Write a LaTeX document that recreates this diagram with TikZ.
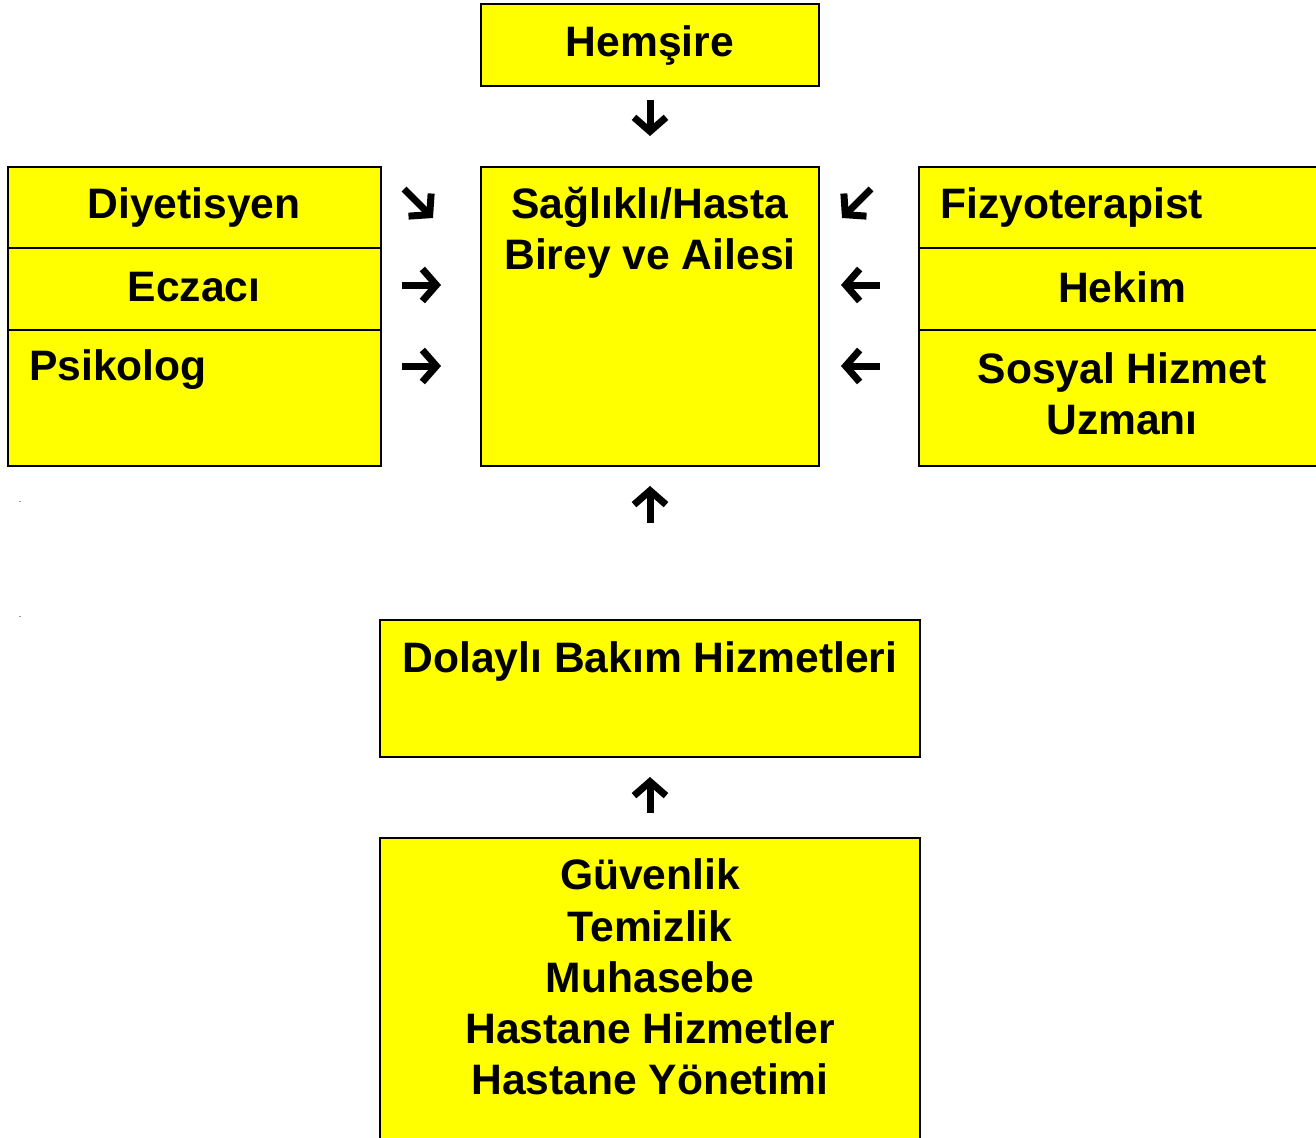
\documentclass[tikz,border=0pt]{standalone}
\usepackage{fontspec}
\setmainfont{Liberation Sans}
\usetikzlibrary{arrows.meta}
\definecolor{boxyellow}{RGB}{255,255,0}
\begin{document}
\begin{tikzpicture}[x=1pt,y=-1pt,
  boxstyle/.style={draw=black,line width=2.2pt,fill=boxyellow},
  lbl/.style={font=\fontsize{42.6}{51.2}\selectfont\bfseries,inner sep=0pt,align=center},
  glypharrow/.style={line width=7pt,-{Straight Barb[length=14pt,width=32pt,line width=7pt]}}]
\useasboundingbox (0,0) rectangle (1316,1137);
\begin{scope}
\clip (0,0) rectangle (1316,1137);
% boxes
\draw[boxstyle] (481,4) rectangle (819,86);
\draw[boxstyle] (8,167) rectangle (381,248);
\draw[boxstyle] (8,248) rectangle (381,330);
\draw[boxstyle] (8,330) rectangle (381,466);
\draw[boxstyle] (481,167) rectangle (819,466);
\draw[boxstyle] (919,167) rectangle (1330,248);
\draw[boxstyle] (919,248) rectangle (1330,330);
\draw[boxstyle] (919,330) rectangle (1330,466);
\draw[boxstyle] (380,620) rectangle (920,757);
\draw[boxstyle] (380,838) rectangle (920,1160);
\end{scope}
% labels
\node[lbl] (hem) at (650,45) {Hemşire};
\node[lbl] (diy) at (194,207) {Diyetisyen};
\node[lbl] (ecz) at (194,287) {Eczacı};
\node[lbl,anchor=west] (psi) at (29,370) {Psikolog};
\node[lbl] (hasta) at (650,233) {Sağlıklı/Hasta\\Birey ve Ailesi};
\node[lbl,anchor=west] (fiz) at (940,207) {Fizyoterapist};
\node[lbl] (hek) at (1122,287) {Hekim};
\node[lbl] (sos) at (1122,394) {Sosyal Hizmet\\Uzmanı};
\node[lbl] (dol) at (650,661) {Dolaylı Bakım Hizmetleri};
\node[lbl] (diger) at (650,977) {Güvenlik\\Temizlik\\Muhasebe\\Hastane Hizmetler\\Hastane Yönetimi};
\node[font=\small,inner sep=0pt] (dotA) at (20,502) {.};
\node[font=\small,inner sep=0pt] (dotB) at (20,617) {.};
% arrow glyph coordinates
\coordinate (a1s) at (650,100); \coordinate (a1e) at (650,136);
\coordinate (a2s) at (404,189); \coordinate (a2e) at (433,218);
\coordinate (a3s) at (402,285); \coordinate (a3e) at (441,285);
\coordinate (a4s) at (402,366); \coordinate (a4e) at (441,366);
\coordinate (a5s) at (871,189); \coordinate (a5e) at (842,218);
\coordinate (a6s) at (880,285); \coordinate (a6e) at (841,285);
\coordinate (a7s) at (880,366); \coordinate (a7e) at (841,366);
\coordinate (a8s) at (650,523); \coordinate (a8e) at (650,486);
\coordinate (a9s) at (650,813); \coordinate (a9e) at (650,777);
\foreach \i in {1,...,9} {\draw[glypharrow] (a\i s) -- (a\i e);}
\end{tikzpicture}
\end{document}
